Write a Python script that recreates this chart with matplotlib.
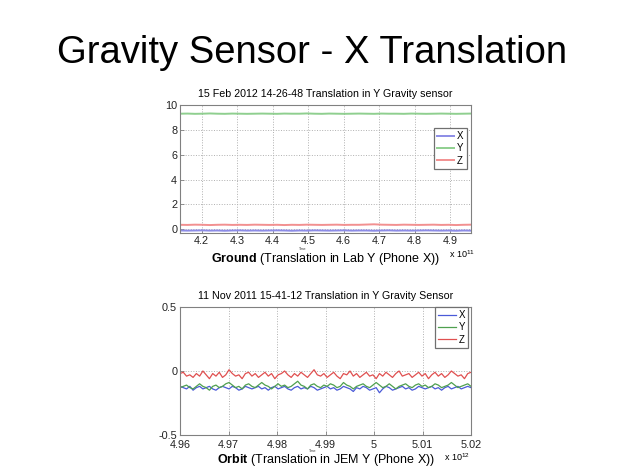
import numpy as np
import matplotlib
matplotlib.use('Agg')
import matplotlib.pyplot as plt
from matplotlib.ticker import FuncFormatter, MultipleLocator

plt.rcParams['font.family'] = ['Liberation Sans', 'DejaVu Sans']
plt.rcParams['mathtext.fontset'] = 'custom'
plt.rcParams['mathtext.rm'] = 'Liberation Sans'
plt.rcParams['mathtext.bf'] = 'Liberation Sans:bold'

# ========== data ==========
# ground test (time axis in units of 1e11)
ground_t0, ground_t1 = 4.139e11, 4.959e11
ground_x = [-0.10, -0.11, -0.10, -0.09, -0.11, -0.10, -0.12, -0.10, -0.09, -0.11,
            -0.10, -0.11, -0.10, -0.09, -0.10, -0.12, -0.10, -0.11, -0.09, -0.10,
            -0.11, -0.10, -0.09, -0.11, -0.10, -0.10, -0.12, -0.10, -0.09, -0.11,
            -0.10, -0.11, -0.10, -0.09, -0.10, -0.11, -0.10, -0.12, -0.10, -0.11]
ground_y = [9.30, 9.31, 9.29, 9.30, 9.32, 9.30, 9.29, 9.31, 9.30, 9.29,
            9.30, 9.31, 9.30, 9.29, 9.31, 9.30, 9.30, 9.32, 9.30, 9.29,
            9.31, 9.30, 9.29, 9.30, 9.31, 9.30, 9.29, 9.31, 9.30, 9.30,
            9.29, 9.31, 9.30, 9.29, 9.30, 9.31, 9.30, 9.29, 9.30, 9.31]
ground_z = [0.36, 0.35, 0.37, 0.36, 0.34, 0.36, 0.37, 0.35, 0.36, 0.35,
            0.37, 0.36, 0.35, 0.36, 0.34, 0.36, 0.35, 0.37, 0.36, 0.35,
            0.36, 0.37, 0.35, 0.36, 0.36, 0.38, 0.40, 0.37, 0.36, 0.35,
            0.37, 0.36, 0.35, 0.36, 0.37, 0.35, 0.36, 0.34, 0.36, 0.37]

# orbit test (time axis in units of 1e12)
orbit_t0, orbit_t1 = 4.96e12, 5.02e12
orbit_x = [-0.12, -0.13, -0.14, -0.12, -0.15, -0.13, -0.12, -0.14, -0.13, -0.12,
           -0.14, -0.15, -0.13, -0.12, -0.13, -0.14, -0.12, -0.13, -0.15, -0.14,
           -0.12, -0.13, -0.14, -0.13, -0.12, -0.14, -0.13, -0.15, -0.13, -0.12,
           -0.14, -0.13, -0.12, -0.14, -0.15, -0.13, -0.12, -0.14, -0.13, -0.14,
           -0.12, -0.13, -0.15, -0.14, -0.13, -0.12, -0.14, -0.13, -0.15, -0.14,
           -0.12, -0.13, -0.14, -0.16, -0.13, -0.14, -0.12, -0.13, -0.15, -0.14,
           -0.13, -0.17, -0.14, -0.12, -0.13, -0.15, -0.14, -0.13, -0.12, -0.14,
           -0.13, -0.15, -0.14, -0.12, -0.13, -0.14, -0.13, -0.12, -0.14, -0.13,
           -0.15, -0.13, -0.12, -0.14, -0.13, -0.12, -0.14, -0.13, -0.12, -0.13]
orbit_y = [-0.13, -0.12, -0.11, -0.13, -0.14, -0.12, -0.10, -0.12, -0.13, -0.15,
           -0.12, -0.11, -0.13, -0.12, -0.10, -0.09, -0.11, -0.13, -0.12, -0.14,
           -0.11, -0.10, -0.12, -0.13, -0.11, -0.09, -0.11, -0.12, -0.14, -0.12,
           -0.10, -0.12, -0.11, -0.13, -0.12, -0.10, -0.08, -0.11, -0.12, -0.14,
           -0.11, -0.10, -0.12, -0.13, -0.11, -0.12, -0.10, -0.11, -0.13, -0.12,
           -0.09, -0.11, -0.12, -0.14, -0.12, -0.11, -0.10, -0.12, -0.13, -0.11,
           -0.09, -0.11, -0.13, -0.12, -0.10, -0.12, -0.14, -0.12, -0.11, -0.10,
           -0.12, -0.13, -0.11, -0.10, -0.12, -0.11, -0.13, -0.12, -0.10, -0.11,
           -0.13, -0.12, -0.11, -0.09, -0.11, -0.13, -0.12, -0.11, -0.10, -0.12]
orbit_z = [-0.02, -0.01, -0.04, -0.03, -0.05, -0.02, -0.04, 0.00, -0.03, -0.06,
           -0.02, -0.04, -0.01, -0.05, -0.03, 0.01, -0.02, -0.04, -0.03, -0.06,
           -0.02, -0.01, -0.04, -0.02, -0.05, -0.03, -0.01, -0.04, -0.02, -0.06,
           -0.03, -0.02, 0.00, -0.03, -0.05, -0.02, -0.04, -0.01, -0.03, -0.05,
           -0.02, 0.01, -0.03, -0.04, -0.02, -0.05, -0.03, -0.01, -0.04, -0.06,
           -0.02, -0.03, 0.00, -0.04, -0.02, -0.05, -0.03, -0.01, -0.04, -0.03,
           -0.06, -0.02, -0.04, -0.01, -0.03, -0.05, -0.02, 0.00, -0.04, -0.03,
           -0.02, -0.05, -0.03, -0.01, -0.04, -0.02, -0.06, -0.03, -0.01, -0.04,
           -0.02, -0.05, -0.03, 0.00, -0.02, -0.04, -0.03, -0.06, -0.02, -0.01]

axis_labels = ['X', 'Y', 'Z']

# ========== figure ==========
fig = plt.figure(figsize=(6.25, 4.69), dpi=100)
fig.text(0.5, 1 - 63 / 469, 'Gravity Sensor - X Translation', ha='center',
         va='baseline', fontsize=27.5, color='black')

spine_col = '#808080'


def style_axes(ax):
    for s in ax.spines.values():
        s.set_color(spine_col)
        s.set_linewidth(0.8)
    ax.tick_params(direction='in', length=3, width=0.6, color=spine_col,
                   labelsize=7.8, labelcolor='#222222', pad=2)
    ax.grid(True, linestyle=':', color='#b0b0b0', linewidth=0.7)
    ax.set_axisbelow(True)


fmt_g = lambda scale: FuncFormatter(lambda v, p: '%g' % round(v / scale, 4))

# ---- ground ----
ax1 = fig.add_axes([180 / 625, 1 - 233 / 469, 291 / 625, 128 / 469])
t_g = np.linspace(ground_t0, ground_t1, len(ground_x))
ax1.plot(t_g, ground_x, color='#8c8ce6', lw=1.4, label=axis_labels[0])
ax1.plot(t_g, ground_y, color='#8fcf8f', lw=1.4, label=axis_labels[1])
ax1.plot(t_g, ground_z, color='#f29090', lw=1.4, label=axis_labels[2])
ax1.set_xlim(ground_t0, ground_t1)
ax1.set_ylim(-0.3, 10)
ax1.xaxis.set_major_locator(MultipleLocator(0.1e11))
ax1.xaxis.set_major_formatter(fmt_g(1e11))
ax1.yaxis.set_major_locator(MultipleLocator(2))
style_axes(ax1)
ax1.set_title('15 Feb 2012 14-26-48 Translation in Y Gravity sensor', fontsize=7.7, pad=6)
ax1.set_xlabel(r'$\bf{Ground}$ (Translation in Lab Y (Phone X))', fontsize=9, labelpad=3.5)
leg1 = ax1.legend(loc='upper right', bbox_to_anchor=(0.985, 0.82), borderaxespad=0,
                  fontsize=7, handlelength=1.8, handletextpad=0.3, labelspacing=0.25,
                  borderpad=0.3, fancybox=False, framealpha=1, edgecolor='#707070')
leg1.get_frame().set_linewidth(0.9)
fig.text(303 / 625, 1 - 248.5 / 469, 'Time', fontsize=2.5, ha='center', va='center', color='#444444')
fig.text(449 / 625, 1 - 254 / 469, r'x 10$^{11}$', fontsize=6.5, ha='left', va='center')

# ---- orbit ----
ax2 = fig.add_axes([180 / 625, 1 - 435 / 469, 291 / 625, 128 / 469])
t_o = np.linspace(orbit_t0, orbit_t1, len(orbit_x))
ax2.plot(t_o, orbit_x, color='#4a5ad8', lw=0.9, label=axis_labels[0])
ax2.plot(t_o, orbit_y, color='#4fa04f', lw=0.9, label=axis_labels[1])
ax2.plot(t_o, orbit_z, color='#e05050', lw=0.9, label=axis_labels[2])
ax2.set_xlim(orbit_t0, orbit_t1)
ax2.set_ylim(-0.5, 0.5)
ax2.xaxis.set_major_locator(MultipleLocator(0.01e12))
ax2.xaxis.set_major_formatter(fmt_g(1e12))
ax2.yaxis.set_major_locator(MultipleLocator(0.5))
ax2.yaxis.set_major_formatter(FuncFormatter(lambda v, p: '%g' % round(v, 3)))
style_axes(ax2)
ax2.tick_params(axis='x', pad=3.5)
ax2.set_title('11 Nov 2011 15-41-12 Translation in Y Gravity Sensor', fontsize=7.7, pad=6)
ax2.set_xlabel(r'$\bf{Orbit}$ (Translation in JEM Y (Phone X))', fontsize=9, labelpad=1.5)
leg2 = ax2.legend(loc='upper right', bbox_to_anchor=(0.99, 1.0), borderaxespad=0,
                  fontsize=7, handlelength=1.8, handletextpad=0.3, labelspacing=0.25,
                  borderpad=0.3, fancybox=False, framealpha=1, edgecolor='#707070')
leg2.get_frame().set_linewidth(0.9)
fig.text(313 / 625, 1 - 451 / 469, 'Time', fontsize=2.5, ha='center', va='center', color='#444444')
fig.text(444 / 625, 1 - 457 / 469, r'x 10$^{12}$', fontsize=6.5, ha='left', va='center')

fig.savefig('out.png', dpi=100, facecolor='white')
